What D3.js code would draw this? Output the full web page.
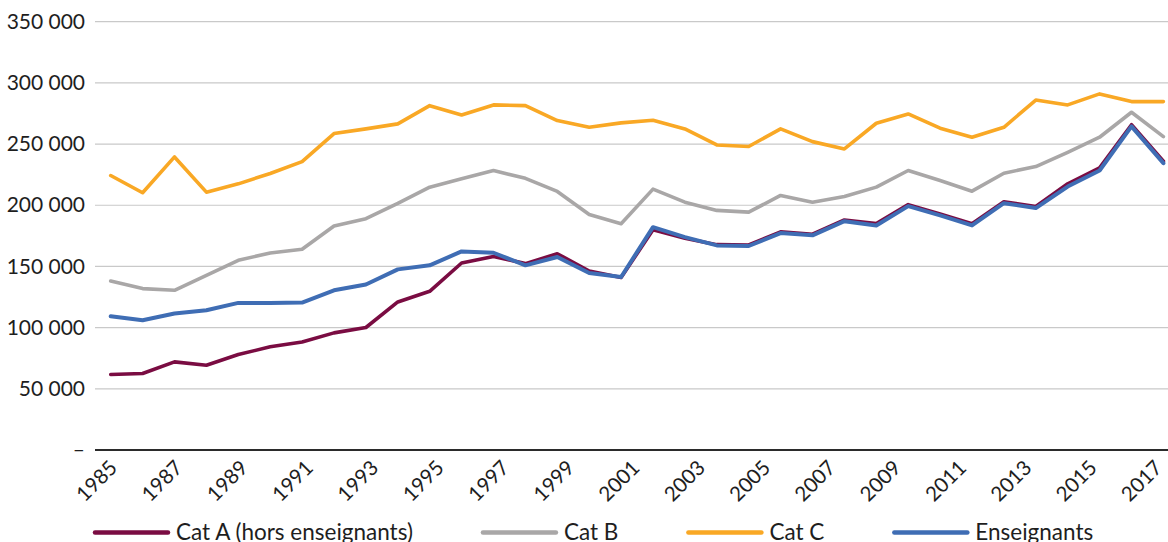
<!DOCTYPE html>
<html>
<head>
<meta charset="utf-8">
<script src="https://cdn.jsdelivr.net/npm/d3@7"></script>
<style>
  html, body { margin: 0; padding: 0; background: #fff; }
  svg { display: block; }
  text { font-family: Lato, "Open Sans", sans-serif; fill: #1e1e1e; }
</style>
</head>
<body>
<svg id="chart" width="1168" height="542"></svg>
<script>
const years = d3.range(1985, 2019);
const labelYears = d3.range(1985, 2018, 2);
const yTicks = [0, 50000, 100000, 150000, 200000, 250000, 300000, 350000];

const catA = [61700, 62500, 72000, 69300, 78000, 84300, 88300, 95700, 100100, 121000,
  129700, 152800, 158200, 152300, 160400, 146300, 140900, 180000, 173000, 167800,
  167500, 178300, 176300, 188000, 185000, 200500, 192800, 185000, 202800, 199000,
  217500, 230500, 265800, 236000];
const catB = [138100, 131900, 130500, 142700, 155000, 161000, 164000, 183000, 189000, 201500,
  214800, 221600, 228400, 222000, 211300, 192500, 184900, 213200, 202500, 195800,
  194400, 208000, 202500, 207200, 214800, 228400, 220200, 211500, 226200, 231600,
  243300, 255600, 276000, 256100];
const catC = [224300, 210200, 239500, 210700, 217500, 226000, 235700, 258600, 262400, 266500,
  281400, 273800, 282000, 281400, 269200, 263700, 267300, 269500, 262400, 249300,
  248000, 262400, 252000, 246000, 267000, 274600, 263000, 255600, 263700, 286000,
  282000, 291000, 284700, 284700];
const ens = [109300, 106000, 111500, 114200, 120200, 120200, 120500, 130500, 135200, 147600,
  150900, 162300, 161200, 150900, 157700, 144600, 141400, 182100, 174000, 167200,
  166700, 177300, 175400, 187000, 183500, 199300, 191700, 183500, 201700, 197700,
  215300, 228400, 264500, 234400];

const seriesNames = ["Cat A (hors enseignants)", "Cat B", "Cat C", "Enseignants"];
const seriesColors = ["#7a0c42", "#a9a7a7", "#f9a825", "#3f6db4"];
const seriesValues = [catA, catB, catC, ens];

const svg = d3.select("#chart");
const gridLeft = 95, gridRight = 1168;

const x = d3.scalePoint().domain(years).range([110.7, 1163.4]);
const xLab = d3.scalePoint().domain(labelYears).range([111, 1156]);
const y = d3.scaleLinear().domain([0, 350000]).range([450, 21.7]);

const fmt = d3.formatLocale({decimal: ",", thousands: "\u202f", grouping: [3], currency: ["", "€"]}).format(",d");

// grid
const yAxis = d3.axisLeft(y).tickValues(yTicks).tickSize(0).tickPadding(0)
  .tickFormat(d => d === 0 ? "–" : fmt(d));
const gy = svg.append("g").attr("transform", `translate(${gridLeft - 10},0)`).call(yAxis);
gy.select(".domain").remove();
gy.selectAll("text").attr("font-size", 21).attr("font-family", "Lato, sans-serif").attr("fill", "#1e1e1e");

svg.append("g").selectAll("line").data(yTicks.filter(d => d > 0)).join("line")
  .attr("x1", gridLeft).attr("x2", gridRight)
  .attr("y1", d => y(d)).attr("y2", d => y(d))
  .attr("stroke", "#c9c9c9").attr("stroke-width", 1.2);

// x axis
svg.append("line").attr("x1", gridLeft).attr("x2", gridRight)
  .attr("y1", y(0)).attr("y2", y(0)).attr("stroke", "#2b2b2b").attr("stroke-width", 2.2);

const xAxis = d3.axisBottom(xLab).tickSize(0).tickPadding(0);
const gx = svg.append("g").attr("transform", `translate(0,${y(0)})`).call(xAxis);
gx.select(".domain").remove();
gx.selectAll("text")
  .attr("font-size", 20.5).attr("font-family", "Lato, sans-serif").attr("fill", "#1e1e1e")
  .attr("text-anchor", "end").attr("dy", null).attr("y", 0)
  .attr("transform", "translate(7,19) rotate(-45)");

// lines
const line = d3.line().x((d, i) => x(years[i])).y(d => y(d)).curve(d3.curveLinear);
seriesValues.forEach((vals, k) => {
  svg.append("path").datum(vals)
    .attr("d", line).attr("fill", "none")
    .attr("stroke", seriesColors[k])
    .attr("stroke-width", k === 3 ? 4 : 3.6)
    .attr("stroke-linejoin", "round").attr("stroke-linecap", "round");
});

// legend
const lg = svg.append("g").attr("transform", "translate(95,532.5)");
let lx = 0;
seriesNames.forEach((name, k) => {
  lg.append("line").attr("x1", lx).attr("x2", lx + 73).attr("y1", 0).attr("y2", 0)
    .attr("stroke", seriesColors[k]).attr("stroke-width", 4.5).attr("stroke-linecap", "round");
  const t = lg.append("text").attr("x", lx + 81).attr("y", 0).attr("dy", "0.35em")
    .attr("font-size", 22.5).text(name);
  lx += 81 + t.node().getComputedTextLength() + 70;
});
</script>
</body>
</html>
